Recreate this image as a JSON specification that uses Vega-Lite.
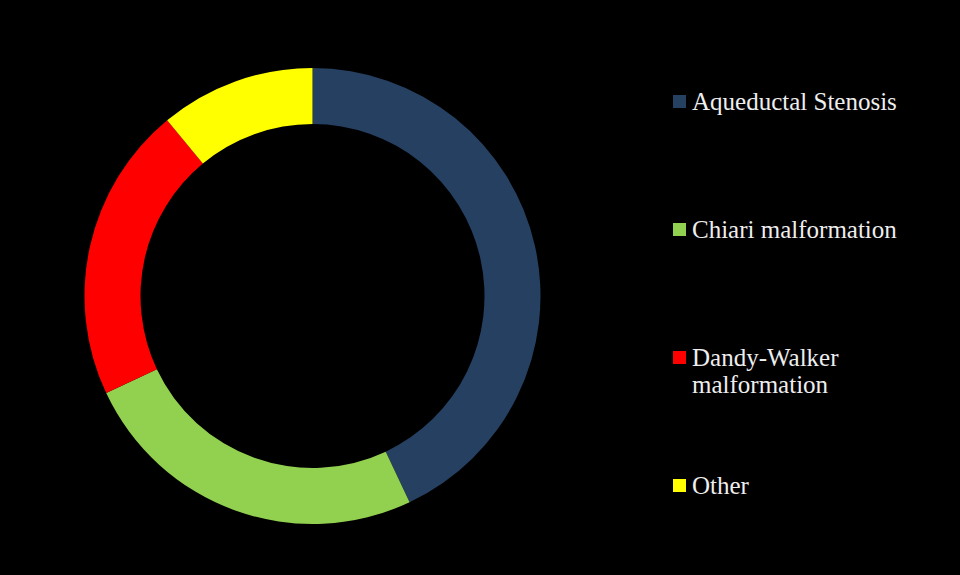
{
  "$schema": "https://vega.github.io/schema/vega-lite/v6.json",
  "width": 960,
  "height": 575,
  "autosize": {"type": "fit", "contains": "padding"},
  "padding": {"top": 17, "bottom": 0, "left": 0, "right": 63},
  "background": "#000000",
  "config": {"view": {"stroke": null}},
  "data": {
    "values": [
      {"cause": "Aqueductal Stenosis", "share": 43},
      {"cause": "Chiari malformation", "share": 25},
      {"cause": "Dandy-Walker malformation", "share": 21},
      {"cause": "Other", "share": 11}
    ]
  },
  "mark": {"type": "arc", "outerRadius": 228, "innerRadius": 172},
  "encoding": {
    "theta": {"field": "share", "type": "quantitative", "stack": true},
    "color": {
      "field": "cause",
      "type": "nominal",
      "sort": ["Aqueductal Stenosis", "Chiari malformation", "Dandy-Walker malformation", "Other"],
      "scale": {
        "domain": ["Aqueductal Stenosis", "Chiari malformation", "Dandy-Walker malformation", "Other"],
        "range": ["#254061", "#92D050", "#FF0000", "#FFFF00"]
      },
      "legend": {
        "title": " ",
        "titleFontSize": 10,
        "titlePadding": 62,
        "orient": "right",
        "offset": 42,
        "padding": 0,
        "symbolType": "square",
        "symbolSize": 170,
        "symbolStrokeWidth": 0,
        "labelFont": "Liberation Serif",
        "labelFontSize": 25,
        "labelColor": "#EEEEEE",
        "labelOffset": 0,
        "labelLimit": 300,
        "rowPadding": 75,
        "labelExpr": "datum.label == 'Dandy-Walker malformation' ? ['Dandy-Walker', 'malformation'] : [datum.label, '']"
      }
    }
  }
}
